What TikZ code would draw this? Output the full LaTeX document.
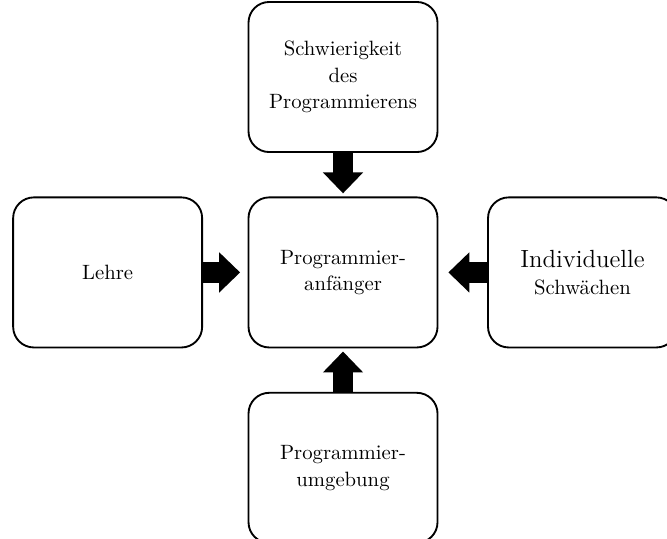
\documentclass[tikz,border=0pt]{standalone}
\usetikzlibrary{arrows.meta, positioning}

\begin{document}
\begin{tikzpicture}[node distance=21pt and 22pt, line width=0.9pt]

	\tikzset{box st/.style={draw, rounded corners=10pt,
			minimum width=91.3pt, minimum height=72.5pt,
			align=center, inner sep=2pt,
			execute at begin node={\setlength{\baselineskip}{12.8pt}}},
		arr st/.style={line width=10.1pt,
			-{Triangle[width=18.8pt, length=10.1pt]}}}

	\clip (-165.7pt,-128.7pt) rectangle (156.5pt,131.6pt);

	\node[box st] (PA) {Programmier-\\anfänger};
	\node[box st, above=of PA] (SP) {Schwierigkeit\\des\\Programmierens};
	\node[box st, left=21.5pt of PA] (LE) {Lehre};
	\node[box st, right=23.5pt of PA] (IS) {{\large Individuelle}\\Schwächen};
	\node[box st, below=of PA] (PU) {Programmier-\\umgebung};

	\draw[arr st, shorten >=1.5pt] (SP) -- (PA);
	\draw[arr st, shorten >=1.5pt] (PU) -- (PA);
	\draw[arr st, shorten >=3.6pt] (LE) -- (PA);
	\draw[arr st, shorten >=4.8pt] (IS) -- (PA);

\end{tikzpicture}
\end{document}
